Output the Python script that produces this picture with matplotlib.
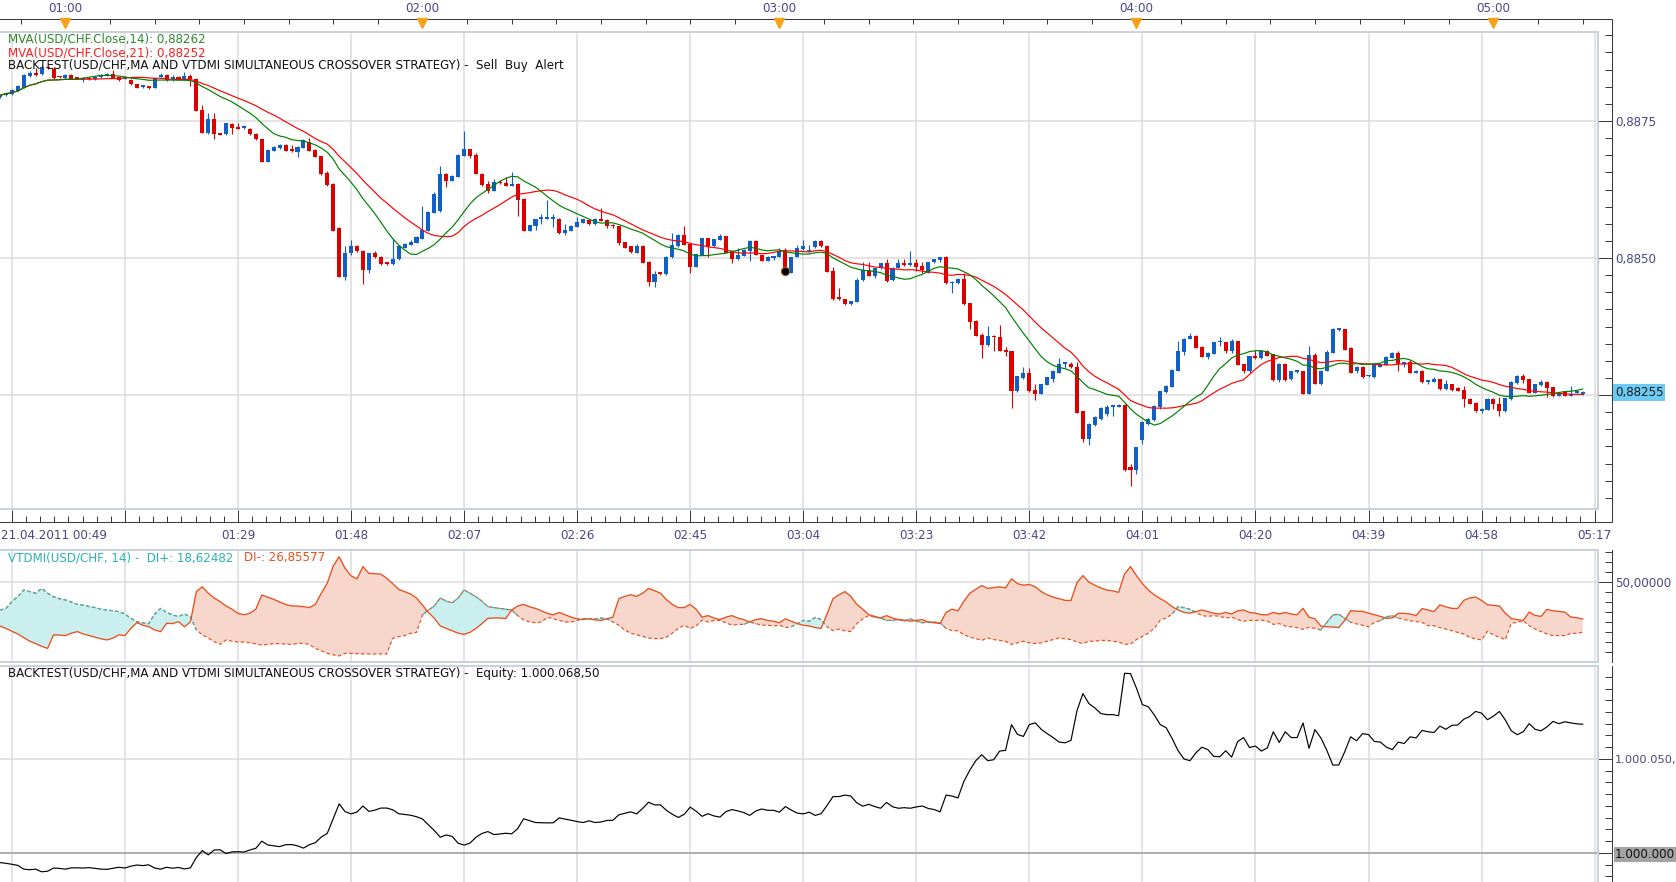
import numpy as np
import pandas as pd
import matplotlib
matplotlib.use("Agg")
import matplotlib.pyplot as plt
import matplotlib.transforms as mtrans

# ---------------- data (prices in 1e-5 units above 0.88000, one bar per minute from 00:49) -------------
opens = [
    794, 797, 799, 805, 811, 832, 837, 836, 848, 845,
    831, 828, 834, 828, 824, 829, 826, 830, 833, 835,
    830, 827, 825, 817, 812, 813, 811, 831, 834, 827,
    831, 825, 833, 826, 770, 728, 754, 728, 726, 744,
    738, 737, 735, 727, 717, 676, 696, 701, 707, 697,
    694, 701, 712, 697, 686, 656, 635, 554, 466, 510,
    522, 513, 478, 510, 502, 492, 489, 498, 519, 524,
    528, 535, 550, 583, 585, 654, 641, 648, 687, 698,
    688, 654, 635, 623, 639, 637, 632, 635, 608, 550,
    559, 571, 572, 571, 571, 545, 550, 557, 564, 569,
    562, 571, 569, 561, 558, 529, 521, 510, 522, 493,
    457, 472, 470, 501, 521, 542, 526, 484, 506, 536,
    521, 533, 540, 513, 498, 504, 513, 531, 505, 495,
    500, 502, 514, 473, 502, 516, 512, 520, 531, 522,
    476, 426, 425, 416, 420, 459, 479, 468, 481, 490,
    459, 482, 490, 487, 490, 485, 473, 492, 496, 502,
    454, 454, 462, 417, 385, 359, 341, 358, 356, 332,
    330, 257, 281, 290, 259, 252, 269, 279, 291, 307,
    307, 302, 220, 170, 195, 207, 215, 228, 229, 232,
    118, 113, 168, 198, 204, 229, 256, 265, 294, 329,
    353, 358, 338, 320, 325, 346, 346, 330, 348, 306,
    293, 321, 317, 331, 324, 277, 307, 279, 292, 293,
    252, 323, 270, 294, 327, 369, 370, 336, 293, 302,
    284, 282, 302, 305, 318, 327, 306, 311, 291, 294,
    273, 274, 279, 261, 270, 262, 259, 243, 236, 220,
    223, 243, 233, 220, 242, 272, 285, 279, 254, 268,
    274, 264, 249, 257, 249, 254, 251]
highs = [
    798, 803, 808, 815, 836, 842, 846, 852, 850, 848,
    832, 836, 836, 831, 830, 831, 832, 836, 837, 843,
    831, 829, 826, 818, 815, 814, 829, 837, 835, 834,
    833, 839, 836, 828, 780, 764, 764, 729, 747, 746,
    746, 742, 737, 729, 718, 698, 705, 708, 708, 707,
    704, 718, 719, 698, 687, 658, 636, 556, 521, 532,
    523, 514, 510, 512, 503, 492, 536, 524, 527, 533,
    540, 595, 586, 621, 668, 655, 651, 689, 732, 699,
    692, 655, 640, 644, 642, 648, 657, 636, 609, 561,
    572, 580, 606, 581, 573, 562, 560, 575, 572, 570,
    573, 591, 571, 562, 559, 530, 522, 525, 523, 494,
    477, 475, 503, 545, 543, 558, 527, 508, 537, 537,
    535, 544, 541, 514, 519, 516, 532, 533, 506, 503,
    503, 519, 518, 502, 524, 532, 523, 532, 532, 523,
    483, 446, 426, 422, 463, 492, 492, 482, 491, 499,
    483, 498, 499, 513, 499, 492, 493, 499, 502, 503,
    458, 463, 472, 418, 386, 364, 376, 359, 378, 338,
    331, 285, 301, 299, 270, 271, 283, 296, 318, 309,
    311, 310, 221, 199, 212, 228, 232, 232, 233, 233,
    125, 156, 203, 208, 231, 258, 268, 297, 349, 354,
    363, 359, 339, 329, 347, 355, 347, 352, 349, 307,
    322, 332, 332, 332, 325, 308, 308, 294, 294, 294,
    339, 327, 295, 333, 372, 372, 371, 337, 303, 303,
    286, 305, 307, 321, 328, 330, 311, 313, 295, 295,
    278, 283, 280, 277, 271, 265, 266, 244, 237, 226,
    244, 244, 246, 245, 275, 286, 288, 280, 271, 277,
    276, 265, 255, 258, 266, 258, 257]
lows = [
    792, 795, 797, 804, 810, 830, 832, 834, 845, 827,
    829, 827, 826, 826, 822, 825, 825, 829, 832, 828,
    823, 826, 816, 810, 811, 809, 810, 830, 823, 823,
    824, 824, 814, 768, 728, 727, 717, 724, 725, 726,
    735, 736, 725, 716, 675, 675, 695, 699, 695, 694,
    685, 700, 695, 684, 652, 632, 549, 465, 460, 506,
    511, 452, 472, 500, 488, 487, 488, 496, 518, 523,
    527, 534, 549, 582, 584, 630, 640, 647, 686, 682,
    653, 632, 618, 622, 635, 631, 631, 577, 549, 549,
    552, 562, 571, 557, 544, 542, 549, 556, 563, 561,
    561, 567, 555, 554, 524, 518, 510, 509, 490, 449,
    448, 469, 469, 500, 520, 523, 473, 483, 505, 502,
    520, 532, 509, 490, 497, 503, 495, 505, 494, 494,
    496, 501, 478, 472, 501, 515, 511, 519, 520, 474,
    424, 424, 414, 415, 419, 458, 467, 463, 480, 457,
    458, 481, 486, 486, 476, 472, 472, 491, 492, 453,
    437, 453, 415, 370, 357, 318, 340, 331, 330, 321,
    227, 255, 280, 256, 240, 251, 268, 273, 290, 300,
    300, 217, 165, 159, 193, 205, 212, 212, 228, 112,
    84, 105, 160, 195, 203, 224, 254, 264, 293, 323,
    352, 335, 319, 315, 324, 340, 326, 326, 304, 290,
    290, 316, 316, 321, 276, 273, 276, 278, 291, 251,
    251, 270, 269, 293, 326, 366, 332, 290, 290, 281,
    283, 281, 301, 304, 317, 293, 302, 290, 290, 272,
    270, 273, 259, 260, 258, 257, 228, 233, 219, 217,
    222, 225, 212, 219, 241, 271, 272, 253, 253, 267,
    246, 247, 248, 248, 248, 253, 250]
closes = [
    797, 802, 807, 813, 834, 838, 834, 849, 846, 828,
    830, 834, 827, 827, 828, 826, 830, 834, 835, 829,
    824, 828, 817, 811, 814, 810, 828, 834, 824, 829,
    825, 833, 827, 769, 729, 754, 726, 725, 746, 737,
    736, 738, 726, 717, 676, 697, 703, 707, 696, 695,
    703, 715, 696, 685, 653, 633, 550, 466, 510, 522,
    512, 478, 509, 501, 489, 489, 499, 521, 525, 530,
    538, 551, 584, 617, 654, 641, 650, 688, 698, 687,
    654, 633, 622, 639, 636, 632, 635, 606, 550, 560,
    571, 572, 573, 572, 545, 552, 558, 566, 571, 562,
    571, 568, 559, 558, 528, 519, 511, 522, 491, 457,
    471, 471, 502, 524, 542, 524, 484, 507, 536, 521,
    534, 540, 510, 498, 505, 515, 531, 506, 495, 502,
    502, 513, 481, 501, 518, 522, 513, 531, 521, 475,
    425, 425, 416, 421, 460, 479, 468, 481, 490, 458,
    482, 490, 487, 490, 483, 478, 492, 498, 501, 454,
    457, 462, 416, 384, 358, 341, 358, 355, 331, 329,
    257, 284, 290, 257, 252, 270, 282, 293, 306, 308,
    301, 218, 170, 198, 210, 226, 229, 229, 232, 113,
    114, 155, 201, 207, 230, 257, 266, 296, 330, 353,
    358, 336, 320, 327, 346, 347, 330, 348, 305, 293,
    321, 317, 331, 322, 277, 307, 277, 293, 293, 252,
    323, 271, 294, 329, 370, 370, 333, 291, 302, 282,
    285, 304, 306, 320, 327, 306, 310, 291, 294, 273,
    277, 279, 261, 270, 259, 258, 242, 234, 220, 225,
    243, 233, 220, 244, 274, 285, 277, 254, 270, 274,
    263, 248, 254, 249, 252, 255, 256]

di_plus = [
    32.5, 33.5, 37.7, 41.0, 45.0, 44.0, 43.0, 46.0, 43.0, 40.8,
    39.5, 38.8, 37.5, 36.0, 35.6, 34.6, 34.0, 33.0, 32.5, 32.0,
    31.5, 30.0, 27.3, 25.2, 24.5, 24.0, 30.0, 33.5, 31.0, 29.4,
    28.5, 30.0, 28.3, 20.0, 17.0, 15.0, 12.7, 11.0, 13.8, 13.0,
    12.5, 12.5, 12.0, 11.3, 10.6, 11.0, 11.5, 11.5, 11.2, 11.0,
    11.5, 11.7, 11.0, 8.5, 7.0, 5.4, 4.5, 3.8, 5.4, 5.4,
    5.2, 5.0, 5.0, 5.0, 5.0, 5.0, 14.8, 15.8, 16.5, 17.9,
    18.5, 29.4, 32.5, 35.0, 40.0, 38.0, 37.0, 40.0, 45.0, 43.0,
    40.8, 38.0, 34.6, 34.0, 33.5, 33.0, 32.5, 29.0, 26.3, 25.0,
    24.6, 25.0, 28.0, 27.0, 26.0, 25.0, 25.0, 26.0, 27.0, 27.0,
    27.0, 27.5, 27.0, 25.0, 23.0, 20.0, 18.0, 17.0, 16.0, 15.0,
    14.6, 14.6, 15.5, 18.0, 21.0, 23.0, 21.0, 22.5, 26.2, 25.0,
    26.0, 26.0, 24.5, 23.0, 23.5, 23.5, 25.0, 24.0, 23.0, 23.0,
    22.5, 23.0, 21.5, 22.0, 24.0, 26.0, 25.5, 27.9, 26.5, 22.0,
    19.6, 20.5, 19.5, 19.0, 24.0, 27.0, 29.0, 28.0, 27.5, 26.0,
    26.0, 26.5, 25.5, 27.0, 25.5, 24.5, 25.0, 25.0, 24.5, 21.0,
    19.6, 19.5, 17.0, 15.5, 14.6, 13.5, 15.0, 14.0, 13.5, 12.9,
    11.0, 12.0, 13.0, 12.0, 11.5, 12.0, 13.0, 14.0, 15.0, 14.5,
    14.0, 12.5, 11.5, 13.0, 13.0, 13.5, 13.5, 13.0, 12.5, 11.0,
    11.2, 14.0, 16.0, 18.0, 21.0, 26.2, 27.5, 30.0, 34.6, 34.0,
    33.0, 31.0, 29.0, 28.5, 29.0, 28.5, 27.5, 28.0, 26.5, 25.5,
    26.0, 26.0, 26.2, 25.5, 23.5, 24.0, 22.5, 22.0, 21.5, 20.4,
    21.7, 21.0, 20.0, 24.8, 29.4, 29.8, 27.3, 24.8, 23.8, 23.0,
    22.1, 24.8, 25.8, 28.3, 28.9, 27.5, 26.5, 25.8, 25.3, 24.8,
    22.7, 22.7, 21.5, 20.6, 19.6, 18.5, 17.5, 15.4, 14.4, 13.8,
    19.2, 16.9, 15.4, 14.0, 24.2, 24.8, 25.8, 22.7, 20.6, 19.0,
    17.5, 16.5, 16.5, 16.5, 17.9, 17.9, 18.62]
di_minus = [
    22.5, 21.0, 19.2, 17.5, 15.2, 13.0, 11.5, 9.8, 8.5, 17.0,
    16.8, 16.5, 18.0, 19.0, 17.5, 16.5, 15.5, 14.5, 13.8, 15.0,
    17.0, 16.5, 21.0, 24.6, 23.0, 22.1, 20.0, 19.0, 24.2, 24.0,
    25.2, 22.0, 25.0, 44.0, 47.0, 43.0, 40.0, 37.7, 35.0, 33.0,
    30.4, 29.5, 30.5, 33.0, 41.9, 40.5, 39.2, 37.5, 36.0, 35.0,
    35.0, 34.6, 34.0, 36.0, 43.0, 49.2, 60.0, 65.8, 58.5, 53.8,
    52.0, 59.6, 55.4, 55.2, 55.0, 52.3, 49.0, 45.4, 44.0, 42.5,
    40.0, 35.6, 31.0, 27.3, 22.5, 21.0, 19.5, 18.0, 17.3, 18.5,
    21.0, 24.0, 27.3, 27.5, 27.5, 27.2, 32.5, 35.0, 36.0, 34.5,
    33.5, 32.0, 30.4, 29.5, 31.0, 29.5, 28.0, 27.0, 26.5, 27.0,
    26.3, 26.0, 27.0, 28.0, 39.6, 41.0, 42.0, 41.0, 43.0, 46.0,
    44.6, 43.0, 39.0, 36.0, 34.0, 34.0, 36.0, 33.0, 28.0, 29.0,
    27.5, 26.5, 28.0, 29.0, 27.5, 26.5, 25.0, 26.5, 27.0, 26.0,
    25.5, 24.5, 27.0, 25.5, 24.0, 23.0, 22.5, 21.5, 21.0, 30.0,
    39.6, 42.0, 44.0, 41.0, 36.0, 33.0, 29.6, 28.5, 27.5, 29.0,
    27.5, 26.5, 26.2, 25.5, 26.0, 26.5, 25.0, 24.5, 24.0, 31.0,
    33.0, 32.0, 38.0, 43.0, 45.5, 47.8, 46.0, 46.5, 47.0, 46.3,
    52.0, 49.0, 48.0, 48.5, 47.0, 44.0, 42.0, 40.5, 39.6, 38.5,
    38.5, 49.6, 54.0, 50.0, 48.0, 46.3, 45.0, 44.5, 43.5, 55.0,
    59.6, 54.0, 49.0, 45.0, 42.0, 39.6, 37.5, 34.6, 32.5, 31.0,
    30.5, 31.5, 32.5, 31.5, 30.5, 30.0, 31.0, 30.0, 32.0, 32.5,
    31.0, 30.5, 29.6, 29.5, 31.0, 30.0, 31.0, 30.0, 29.5, 33.5,
    28.0, 27.0, 22.5, 22.0, 21.9, 21.5, 26.0, 32.1, 31.7, 31.7,
    30.5, 29.6, 28.5, 27.3, 27.5, 30.4, 30.4, 30.0, 29.0, 33.4,
    32.5, 31.5, 35.7, 34.5, 33.5, 33.5, 38.5, 40.0, 40.6, 38.5,
    35.8, 35.4, 35.0, 30.5, 27.2, 26.5, 26.0, 31.2, 29.1, 28.5,
    32.9, 32.0, 31.6, 31.2, 28.1, 27.7, 26.86]

# equity, USD above 1.000.000
equity = [
    -5.1, -5.5, -6.0, -6.6, -8.6, -8.9, -8.6, -10.0, -9.7, -8.0,
    -8.2, -8.6, -7.9, -7.9, -8.0, -7.8, -8.2, -8.6, -8.7, -8.1,
    -7.6, -8.0, -7.0, -6.4, -6.7, -6.3, -8.0, -8.6, -7.6, -8.1,
    -7.7, -8.5, -7.9, -2.4, 1.3, -1.0, 1.6, 1.7, -0.3, 0.6,
    0.7, 0.5, 1.6, 2.5, 6.3, 4.3, 3.8, 3.4, 4.4, 4.5,
    3.8, 2.6, 4.4, 5.5, 8.5, 10.4, 18.2, 26.1, 22.0, 20.8,
    21.8, 25.0, 22.1, 22.8, 23.9, 23.9, 23.0, 20.9, 20.5, 20.1,
    19.3, 18.1, 15.0, 11.9, 8.4, 9.6, 8.8, 5.2, 4.2, 5.3,
    8.4, 10.4, 11.4, 9.8, 10.1, 10.5, 10.2, 12.9, 18.2, 17.2,
    16.2, 16.1, 16.0, 16.1, 18.7, 18.0, 17.4, 16.7, 16.2, 17.1,
    16.2, 16.5, 17.3, 17.4, 20.3, 21.1, 21.9, 20.8, 23.7, 27.0,
    25.6, 25.6, 22.7, 20.6, 18.9, 20.6, 24.4, 22.2, 19.5, 20.9,
    19.7, 19.1, 22.0, 23.1, 22.4, 21.5, 20.0, 22.3, 23.4, 22.7,
    22.7, 21.7, 24.7, 22.8, 21.2, 20.8, 21.7, 20.0, 20.9, 25.3,
    30.0, 30.0, 30.8, 30.3, 26.7, 24.9, 25.9, 24.7, 23.8, 26.9,
    24.6, 23.8, 24.1, 23.8, 24.5, 25.0, 23.7, 23.1, 21.9, 30.8,
    30.3, 29.3, 38.1, 44.1, 49.1, 52.3, 49.1, 49.6, 54.2, 54.6,
    68.3, 63.1, 62.0, 68.3, 69.2, 65.8, 63.5, 61.4, 59.0, 58.6,
    59.9, 75.7, 84.8, 79.5, 77.2, 74.2, 73.6, 73.6, 73.0, 95.6,
    95.4, 87.7, 78.9, 77.8, 73.4, 68.3, 66.6, 60.9, 54.4, 50.0,
    49.1, 53.3, 56.3, 55.0, 51.4, 51.2, 54.4, 51.0, 59.2, 61.4,
    56.1, 56.9, 54.2, 55.9, 64.5, 58.8, 64.5, 61.4, 61.4, 69.2,
    55.7, 65.6, 61.2, 54.6, 46.8, 46.8, 53.8, 61.8, 59.7, 63.5,
    63.0, 59.3, 59.0, 56.3, 55.0, 59.0, 58.2, 61.8, 61.2, 65.2,
    64.5, 64.1, 67.5, 65.8, 67.9, 68.1, 71.1, 72.6, 75.3, 74.4,
    70.9, 72.8, 75.3, 70.7, 65.0, 62.9, 64.5, 68.8, 65.8, 65.0,
    67.1, 70.0, 68.8, 69.8, 69.2, 68.7, 68.5]

signal_bar = [132]
signal_price = [477]

grid_bars = [2, 21, 40, 59, 78, 97, 116, 135, 154, 173, 192, 211, 230, 249, 268]
bottom_labels = ["", "", "01:29", "01:48", "02:07", "02:26", "02:45", "03:04",
                 "03:23", "03:42", "04:01", "04:20", "04:39", "04:58", "05:17"]
first_label = "21.04.2011 00:49"
hour_bars = [11, 71, 131, 191, 251]
hour_labels = ["01:00", "02:00", "03:00", "04:00", "05:00"]
price_ticks = [250, 500, 750]
price_labels = ["", "0,8850", "0,8875"]
last_price_label = "0,88255"
last_price = 255

# ---------------- layout ----------------
W, H = 1676, 882
PT = 0.72          # points per pixel at dpi 100
FS = 8.6
BAR_PX = 5.95
PANEL_R = 1598

plt.rcParams['font.family'] = ['DejaVu Sans']
fig = plt.figure(figsize=(W / 100, H / 100), dpi=100)
fig.patch.set_facecolor('white')

LAB = '#47478A'
AXC = '#3A3A3A'
BORDER = '#CAD2DC'
GRID = '#DDDDDD'
BLUE = '#1060C8'
RED = '#DD0000'


def rect(top, bottom, left=0, right=PANEL_R):
    return [left / W, 1 - bottom / H, (right - left) / W, (bottom - top) / H]


ax1 = fig.add_axes(rect(32, 509))
ax2 = fig.add_axes(rect(550, 662))
ax3 = fig.add_axes(rect(666, 882))

X0, X1 = 0.0, PANEL_R / BAR_PX
YLIM1 = (42.0, 912.4)
YLIM2 = (0.0, 70.0)
YLIM3 = (-15.43, 99.47)

for ax in (ax1, ax2, ax3):
    ax.set_xticks(grid_bars)
    ax.grid(True, axis='x', which='major', color=GRID, lw=1.1)
    ax.set_axisbelow(True)
    ax.spines['left'].set_visible(False)
    for s in ('top', 'bottom'):
        ax.spines[s].set_color(BORDER)
        ax.spines[s].set_linewidth(2 * PT)
    ax.spines['right'].set_position(('outward', 14 * PT))
    ax.spines['right'].set_color(AXC)
    ax.spines['right'].set_linewidth(1.0 * PT)
    ax.yaxis.tick_right()
    ax.tick_params(axis='y', which='major', direction='in', length=14 * PT, width=PT,
                   color=AXC, labelsize=FS, labelcolor=LAB, pad=2.2)
    ax.tick_params(axis='y', which='minor', direction='in', length=7 * PT, width=PT, color=AXC)
    ax.plot([1, 1], [0, 1], transform=ax.transAxes, color=BORDER, lw=2 * PT, clip_on=False, zorder=5)

for ax in (ax2, ax3):
    ax.tick_params(axis='x', which='both', length=0, labelbottom=False)

# ---------------- main panel ----------------
x = np.arange(len(closes))
o = np.array(opens, float)
h = np.array(highs, float)
l = np.array(lows, float)
c = np.array(closes, float)
up = c >= o
cols = np.where(up, BLUE, RED)
ax1.vlines(x, l, h, colors=cols, lw=0.8, zorder=3)
body_lo = np.minimum(o, c)
body_h = np.maximum(np.abs(c - o), 3.0)
ax1.bar(x, body_h, bottom=body_lo, width=0.68, color=cols, edgecolor='none', lw=0, zorder=4)

cs = pd.Series(c)
ma14 = cs.rolling(14, min_periods=1).mean()
ma21 = cs.rolling(21, min_periods=1).mean()
ax1.plot(x, ma21, color='#FF0000', lw=0.85, zorder=5)
ax1.plot(x, ma14, color='#008000', lw=0.85, zorder=5)
ax1.plot(signal_bar, signal_price, 'o', ms=6, mfc='black', mec='#A06A30', mew=0.8, zorder=7)

ax1.set_yticks(price_ticks)
ax1.set_yticklabels(price_labels)
ax1.set_yticks(np.arange(62.5, 912, 31.25), minor=True)
ax1.grid(True, axis='y', which='major', color=GRID, lw=1.1)

# bottom time axis
ax1.spines['bottom'].set_position(('outward', 13 * PT))
ax1.spines['bottom'].set_color(AXC)
ax1.spines['bottom'].set_linewidth(PT)
ax1.xaxis.tick_bottom()
ax1.set_xticklabels(bottom_labels)
minor_x = [v for v in np.arange(2, 268.5, 19 / 8) if min(abs(v - g) for g in grid_bars) > 0.1]
ax1.set_xticks(minor_x, minor=True)
ax1.tick_params(axis='x', which='major', direction='in', length=12 * PT, width=PT, color=AXC,
                labelsize=FS, labelcolor=LAB, pad=5)
ax1.tick_params(axis='x', which='minor', direction='in', length=6 * PT, width=PT, color=AXC)
ax1.plot([0, 1], [0, 0], transform=ax1.transAxes, color=BORDER, lw=2 * PT, clip_on=False, zorder=5)
ax1.annotate(first_label, xy=(0, 0), xycoords='axes fraction', xytext=(1, -20 * PT),
             textcoords='offset points', ha='left', va='top', fontsize=FS, color=LAB)

ax1.set_xlim(X0, X1)
ax1.set_ylim(*YLIM1)

# top time axis
axt = ax1.twiny()
for s in ('left', 'right', 'bottom'):
    axt.spines[s].set_visible(False)
axt.spines['top'].set_position(('outward', 13 * PT))
axt.spines['top'].set_color(AXC)
axt.spines['top'].set_linewidth(PT)
axt.set_xticks(hour_bars)
axt.set_xticklabels(hour_labels)
minor_top = [v for v in np.arange(3.5, 268, 7.5) if min(abs(v - g) for g in hour_bars) > 0.1]
axt.set_xticks(minor_top, minor=True)
axt.tick_params(axis='x', which='both', direction='in', length=5 * PT, width=PT, color=AXC,
                labelsize=FS, labelcolor=LAB, pad=2.6)
axt.set_xlim(X0, X1)
tri_tr = mtrans.blended_transform_factory(axt.transData, ax1.transAxes)
axt.plot(hour_bars, [1.0185] * len(hour_bars), 'v', ms=6.5, color='#F7A21B', mec='#F7A21B',
         transform=tri_tr, clip_on=False, zorder=8, scalex=False, scaley=False)
axt.set_xlim(X0, X1)
ax1.set_ylim(*YLIM1)

# last price box
ax1.annotate(last_price_label, xy=(1, last_price), xycoords=('axes fraction', 'data'),
             xytext=(17 * PT, 0), textcoords='offset points', ha='left', va='center',
             fontsize=FS, color='#1A1A1A',
             bbox=dict(boxstyle='square,pad=0.15', fc='#6CCBF5', ec='none'))

# legends main
fig.text(8 / W, 1 - 39 / H, "MVA(USD/CHF.Close,14): 0,88262", color='#2E8B2E', fontsize=FS, va='center')
fig.text(8 / W, 1 - 52.5 / H, "MVA(USD/CHF.Close,21): 0,88252", color='#FF2020', fontsize=FS, va='center')
fig.text(8 / W, 1 - 65.5 / H,
         "BACKTEST(USD/CHF,MA AND VTDMI SIMULTANEOUS CROSSOVER STRATEGY) -  Sell  Buy  Alert",
         color='#111111', fontsize=FS, va='center')

# ---------------- DI panel ----------------
dp = np.array(di_plus)
dm = np.array(di_minus)
ax2.set_yticks([50])
ax2.set_yticklabels(["50,00000"])
ax2.set_yticks(np.arange(6.25, 70, 6.25), minor=True)
ax2.grid(True, axis='y', which='major', color=GRID, lw=1.1)
ax2.fill_between(x, dp, dm, where=dp >= dm, interpolate=True, color='#CBEFEF', lw=0, zorder=2)
ax2.fill_between(x, dp, dm, where=dp < dm, interpolate=True, color='#F7D7CB', lw=0, zorder=2)
ax2.plot(x, dp, color='#E8501E', lw=0.85, ls=(0, (3, 2)), zorder=3)
above = dp >= dm
near = above | np.roll(above, 1) | np.roll(above, -1)
ax2.plot(x, np.where(near, dp, np.nan), color='#2DBDBD', lw=0.85, ls=(0, (3, 2)), zorder=4)
ax2.plot(x, dm, color='#E8501E', lw=0.95, zorder=5)
ax2.set_xlim(X0, X1)
ax2.set_ylim(*YLIM2)

fig.text(8 / W, 1 - 558 / H, "VTDMI(USD/CHF, 14) -  DI+: 18,62482", color='#2AB3B3', fontsize=FS, va='center')
fig.text(244 / W, 1 - 558 / H, "DI-: 26,85577", color='#E8501E', fontsize=FS, va='center')

# ---------------- equity panel ----------------
eq = np.array(equity)
ax3.set_yticks([0, 50])
ax3.set_yticklabels(["1.000.000", "1.000.050,"])
ax3.set_yticks(np.arange(-12.5, 99, 6.25), minor=True)
ax3.grid(True, axis='y', which='major', color=GRID, lw=1.1)
ax3.axhline(0, color='#A0A0A0', lw=1.1, zorder=2)
ax3.plot(x, eq, color='black', lw=0.85, zorder=4)
ax3.spines['bottom'].set_visible(False)
for lab in ax3.get_yticklabels():
    if lab.get_text() == "1.000.000":
        lab.set_color('#111111')
        lab.set_bbox(dict(boxstyle='square,pad=0.12', fc='#A3A3A3', ec='none'))
    else:
        lab.set_fontsize(8.2)
ax3.set_xlim(X0, X1)
ax3.set_ylim(*YLIM3)

fig.text(8 / W, 1 - 673 / H,
         "BACKTEST(USD/CHF,MA AND VTDMI SIMULTANEOUS CROSSOVER STRATEGY) -  Equity: 1.000.068,50",
         color='#111111', fontsize=FS, va='center')

# ---------------- axis-line joins (decoration, pixel coords) ----------------
ov = fig.add_axes([0, 0, 1, 1], zorder=20)
ov.set_xlim(0, W)
ov.set_ylim(H, 0)
ov.axis('off')
ov.patch.set_alpha(0)
for seg in [((PANEL_R, 1612), (19, 19)), ((1612, 1612), (19, 32)), ((1612, 1612), (509, 522)),
            ((PANEL_R, 1612), (522, 522))]:
    ov.plot(seg[0], seg[1], color=AXC, lw=PT, solid_capstyle='butt')

fig.savefig("out.png", dpi=100)
